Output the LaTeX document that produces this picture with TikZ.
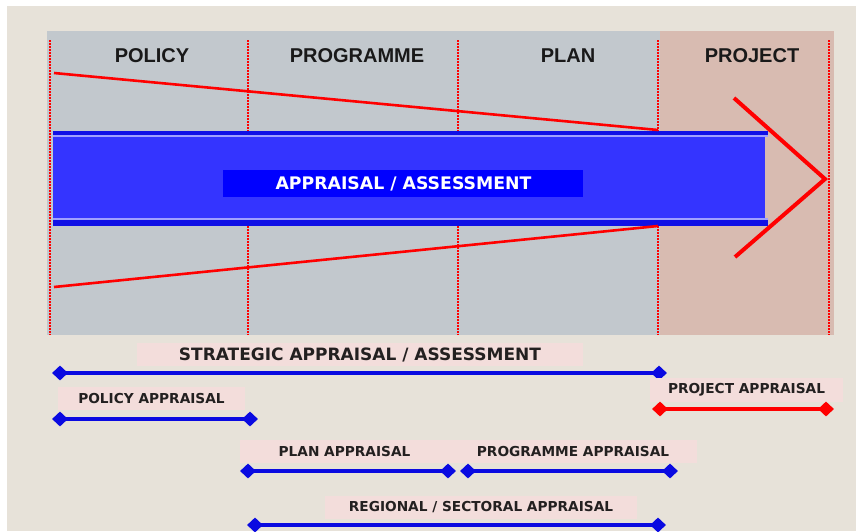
\documentclass[tikz,border=0pt]{standalone}
\usepackage{fontspec}
\setmainfont{Liberation Sans}
\newfontfamily\tagfont{DejaVu Sans}
\usepackage{tikz}
\usetikzlibrary{arrows,shapes.geometric}

\definecolor{paper}{RGB}{231,226,217}
\definecolor{panelgrey}{RGB}{194,200,205}
\definecolor{panelpink}{RGB}{216,187,177}
\definecolor{tagpink}{RGB}{243,221,219}
\definecolor{bandblue}{RGB}{52,52,255}
\definecolor{banddark}{RGB}{16,16,230}
\definecolor{bandlight}{RGB}{160,160,255}
\definecolor{spanblue}{RGB}{10,10,225}
\definecolor{inkgrey}{RGB}{35,32,32}

\tikzset{
  header/.style={font=\fontsize{20}{24}\selectfont\bfseries, text=black!90, anchor=base},
  tag/.style={fill=tagpink, inner sep=0pt, minimum height=23pt,
    font=\tagfont\bfseries\fontsize{13.7}{16}\selectfont, text=inkgrey},
  endmark/.style={diamond, fill=spanblue, inner sep=0pt, minimum width=16pt, minimum height=15pt},
  span/.style={draw=spanblue, line width=4pt, shorten <=-2pt, shorten >=-2pt},
  divider/.style={red, line width=2pt, densely dotted},
  funnel/.style={red, line width=2.6pt}
}

\begin{document}
\begin{tikzpicture}[x=1pt, y=-1pt]

        \useasboundingbox (0,0) rectangle (856,531);
        \fill[white] (0,0) rectangle (856,531);
        \fill[paper] (7,6) rectangle (856,531);

        % stages
        \fill[panelgrey] (47,31) rectangle (660,335);
        \fill[panelpink] (660,31) rectangle (834,335);

        \node[header] (policy) at (152,62) {POLICY};
        \node[header] (programme) at (357,62) {PROGRAMME};
        \node[header] (plan) at (568,62) {PLAN};
        \node[header] (project) at (752,62) {PROJECT};

        \coordinate (d0) at (50,40);
        \coordinate (d1) at (248,40);
        \coordinate (d2) at (458,40);
        \coordinate (d3) at (658,40);
        \coordinate (d4) at (829,40);
        \foreach \d in {d0,d1,d2,d3,d4}
            \draw[divider] (\d) -- ++(0,295);

        % appraisal band
        \fill[banddark] (53,131) rectangle (768,135);
        \fill[bandlight] (53,135) rectangle (768,137);
        \fill[bandblue] (53,137) rectangle (765,218);
        \fill[bandlight] (53,218) rectangle (768,220);
        \fill[banddark] (53,220) rectangle (768,226);
        \fill[blue] (223,170) rectangle (583,197);
        \node[text=white, font=\tagfont\bfseries\fontsize{17.3}{20}\selectfont] (band) at (403.5,183.5) {APPRAISAL / ASSESSMENT};

        \coordinate (ftop) at (54,73);
        \coordinate (fbot) at (54,287);
        \coordinate (fend1) at (658,130);
        \coordinate (fend2) at (658,226);
        \draw[funnel] (ftop) -- (fend1);
        \draw[funnel] (fbot) -- (fend2);

        \coordinate (chev1) at (734,98);
        \coordinate (chevtip) at (825,179);
        \coordinate (chev2) at (735,257);
        \draw[red, line width=4pt] (chev1) -- (chevtip) -- (chev2);

        % appraisal spans
        \node[tag, minimum width=446pt, font=\tagfont\bfseries\fontsize{17}{20}\selectfont] (strategic) at (360,354.5) {STRATEGIC APPRAISAL / ASSESSMENT};
        \node[endmark] (s1) at (60,373) {};
        \node[endmark] (s2) at (659,373) {};
        \draw[span] (s1) -- (s2);

        \node[tag, minimum width=187pt] (policyapp) at (151.5,398.5) {POLICY APPRAISAL};
        \node[endmark] (p1) at (60,419) {};
        \node[endmark] (p2) at (250,419) {};
        \draw[span] (p1) -- (p2);

        \node[tag, minimum width=193pt, minimum height=24pt] (projectapp) at (746.5,390) {PROJECT APPRAISAL};
        \node[endmark, fill=red] (j1) at (660,409) {};
        \node[endmark, fill=red] (j2) at (826,409) {};
        \draw[span, draw=red] (j1) -- (j2);

        \node[tag, minimum width=209pt] (planapp) at (344.5,451.5) {PLAN APPRAISAL};
        \node[tag, minimum width=248pt] (progapp) at (573,451.5) {PROGRAMME APPRAISAL};
        \node[endmark] (l1) at (248,471) {};
        \node[endmark] (l2) at (448,471) {};
        \node[endmark] (g1) at (468,471) {};
        \node[endmark] (g2) at (670,471) {};
        \draw[span] (l1) -- (l2);
        \draw[span] (g1) -- (g2);

        \node[tag, minimum width=312pt] (regional) at (481,507.5) {REGIONAL / SECTORAL APPRAISAL};
        \node[endmark] (r1) at (255,525) {};
        \node[endmark] (r2) at (658,525) {};
        \draw[span] (r1) -- (r2);

\end{tikzpicture}
\end{document}
